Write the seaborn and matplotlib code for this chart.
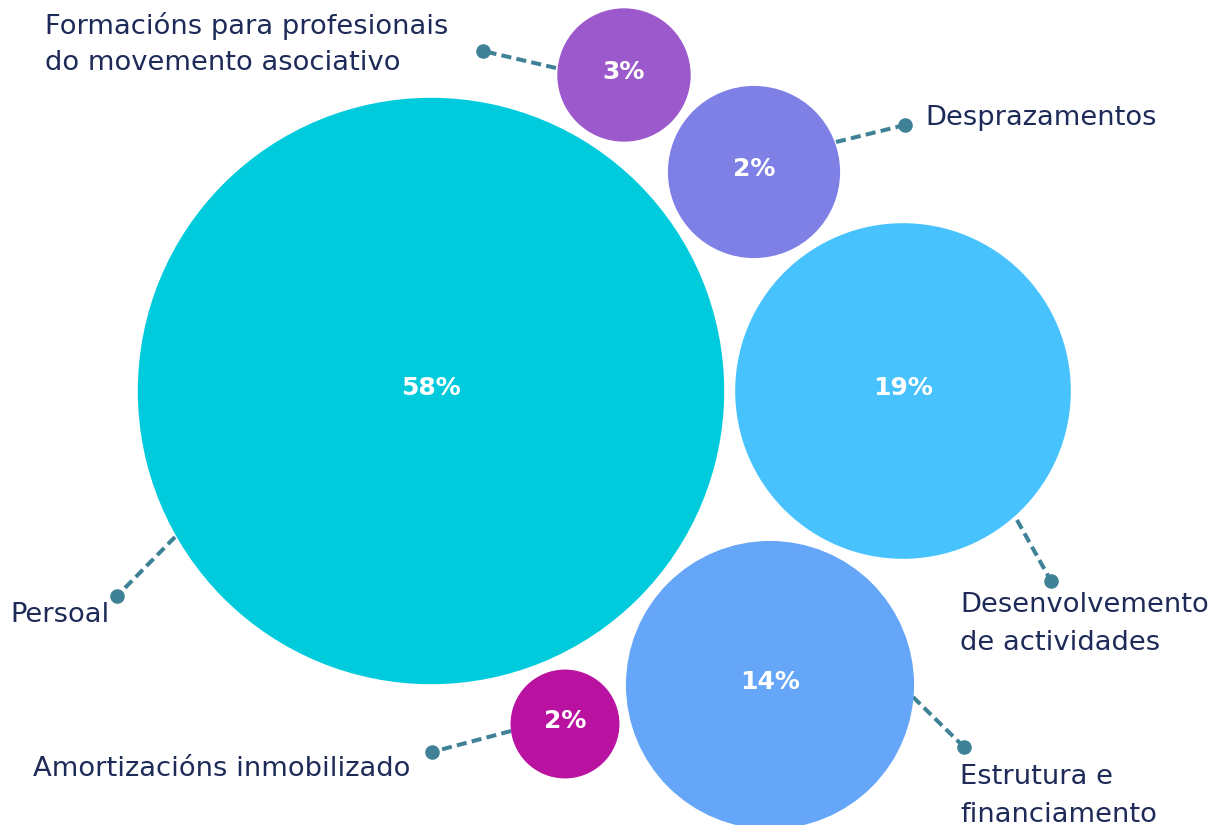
import matplotlib
matplotlib.use("Agg")
import matplotlib.pyplot as plt
import numpy as np
import pandas as pd
import seaborn as sns

# Data
categories = ["Persoal", "Desenvolvemento de actividades", "Estrutura e financiamento",
              "Formacións para profesionais do movemento asociativo", "Desprazamentos",
              "Amortizacións inmobilizado"]
pct_labels = ["58%", "19%", "14%", "3%", "2%", "2%"]
bubble_values = [58, 19, 14, 3, 5, 2]  # area drawn (Desprazamentos bubble is drawn larger than its label)
x_pos = [431, 903, 770, 624, 754, 565]  # bubble centres, pixel grid
y_pos = [391, 391, 685, 75, 172, 724]

label_text = ["Persoal", "Desenvolvemento\nde actividades", "Estrutura e\nfinanciamento",
              "Formacións para profesionais\ndo movemento asociativo", "Desprazamentos",
              "Amortizacións inmobilizado"]
colors = ["#00CBDC", "#48C2FD", "#66A6F8", "#9B59CB", "#7F80E6", "#BA12A0"]

# leader lines: (start on bubble edge, dot), label anchor (x, y, ha)
leaders = [((175, 537), (117, 596)), ((1017, 520), (1051, 581)), ((913, 697), (964, 747)),
           ((556, 68), (483, 51)), ((836, 142), (905, 125)), ((511, 731), (432, 752))]
label_pos = [(10, 615, "left"), (960, 624, "left"), (960, 796, "left"),
             (45, 44, "left"), (925, 118, "left"), (410, 769, "right")]

W, H, DPI = 1222, 825, 100
PX_PER_SQRT = 38.5  # bubble radius in px per sqrt(percent)
LINE_COLOR = "#3F8297"
TEXT_COLOR = "#1E2B58"


def bubble_size(value):
    """Marker area in points^2 so the radius is PX_PER_SQRT*sqrt(value) px."""
    diameter_pt = 2 * PX_PER_SQRT * np.sqrt(value) * 72 / DPI
    return diameter_pt ** 2


def main():
    df = pd.DataFrame({"cat": categories, "x": x_pos, "y": y_pos, "value": bubble_values})
    fig = plt.figure(figsize=(W / DPI, H / DPI), dpi=DPI)
    ax = fig.add_axes([0, 0, 1, 1])

    for (start, end) in leaders:
        ax.plot([start[0], end[0]], [start[1], end[1]], color=LINE_COLOR, lw=2.9,
                linestyle=(0, (2.5, 1.3)), solid_capstyle="butt", zorder=1)
        ax.plot(end[0], end[1], marker="o", ms=10.5, color=LINE_COLOR, mew=0, zorder=1)

    sns.scatterplot(data=df, x="x", y="y", hue="cat", palette=dict(zip(categories, colors)),
                    size="value", sizes={v: bubble_size(v) for v in bubble_values},
                    linewidth=0, legend=False, ax=ax, zorder=2)

    for x, y, pct in zip(x_pos, y_pos, pct_labels):
        ax.text(x, y - 3, pct, color="white", fontsize=18, fontweight="bold",
                ha="center", va="center", zorder=3)

    for txt, (lx, ly, ha) in zip(label_text, label_pos):
        ax.text(lx, ly, txt, color=TEXT_COLOR, fontsize=19.7, ha=ha, va="center",
                linespacing=1.55, zorder=3)

    ax.set_xlim(0, W)
    ax.set_ylim(H, 0)
    ax.set_axis_off()
    fig.savefig("out.png", dpi=DPI, facecolor="white")


if __name__ == "__main__":
    sns.set_theme(style="white")
    plt.rcParams["font.family"] = ["DejaVu Sans"]
    main()
